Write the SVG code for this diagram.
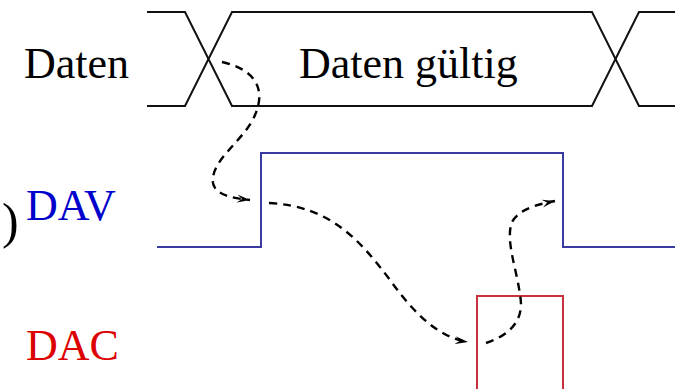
<svg xmlns="http://www.w3.org/2000/svg" width="675" height="389" viewBox="0 0 675 389">
  <style>
    .lbl { font-family: "Liberation Serif", "Times New Roman", serif; font-size: 44px; }
    .bus { fill: none; stroke: #111; stroke-width: 2; }
    .dav { fill: none; stroke: #3a3aa0; stroke-width: 2; }
    .dac { fill: none; stroke: #c8323c; stroke-width: 2; }
    .flow { fill: none; stroke: #000; stroke-width: 2.4; stroke-dasharray: 8 6; }
  </style>
  <defs>
    <marker id="head" markerWidth="14" markerHeight="10" refX="13" refY="5" orient="auto" markerUnits="userSpaceOnUse">
      <path d="M0,1 L13,5 L0,9 L5,5 Z" fill="#000"/>
    </marker>
  </defs>
  <rect width="675" height="389" fill="#fff"/>

  <!-- data bus -->
  <g id="daten">
    <text class="lbl" x="24" y="78" fill="#000">Daten</text>
    <path class="bus" d="M147,12 H185 L232,106 H592 L639,12 H675"/>
    <path class="bus" d="M147,106 H185 L232,12 H592 L639,106 H675"/>
    <text class="lbl" x="299" y="78" fill="#000">Daten gültig</text>
  </g>

  <!-- DAV line -->
  <g id="dav">
    <text x="2" y="238" fill="#000" style="font-family:'Liberation Serif','Times New Roman',serif;font-size:50px">)</text>
    <text class="lbl" x="26" y="220" fill="#0000cc">DAV</text>
    <path class="dav" d="M157,247 H261 V153 H563 V247 H675"/>
  </g>

  <!-- DAC line -->
  <g id="dac">
    <text class="lbl" x="26" y="360" fill="#dd0000">DAC</text>
    <path class="dac" d="M157,392 H477 V296 H563 V392 H675"/>
  </g>

  <!-- handshake sequence -->
  <g id="connectors">
    <path class="flow" marker-end="url(#head)" d="M222,62 C250,68 268,85 255,115 C245,140 210,160 213,183 C215,195 232,198 250,200"/>
    <path class="flow" marker-end="url(#head)" d="M269,203 C330,206 360,240 390,280 C415,315 440,338 468,342"/>
    <path class="flow" marker-end="url(#head)" d="M486,343 C510,335 525,320 520,295 C517,270 505,240 512,222 C520,208 540,204 555,201"/>
  </g>
</svg>
